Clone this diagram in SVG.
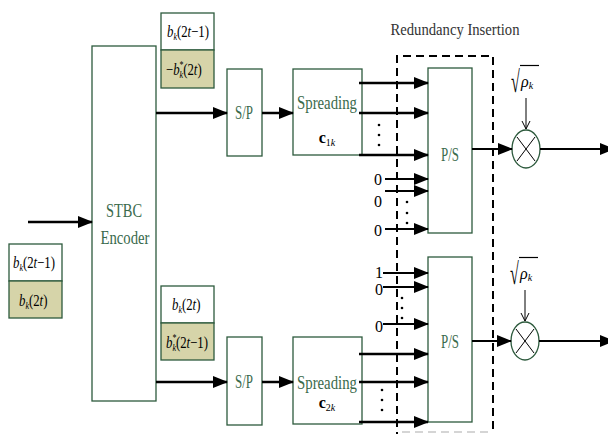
<svg xmlns="http://www.w3.org/2000/svg" width="608" height="434" viewBox="0 0 608 434">
<style>
.box{fill:#fff;stroke:#2d5a3d;stroke-width:1.3}
.tan{fill:#d6d4a9;stroke:#2d5a3d;stroke-width:1.3}
.lbl{font-family:"Liberation Serif","Times New Roman",serif;fill:#3a6a4c}
.m{font-family:"Liberation Serif","Times New Roman",serif;fill:#000;font-size:16px}
.i{font-style:italic}
.w{stroke:#000;stroke-width:2.5;fill:none}
.z{stroke:#000;stroke-width:2;fill:none}
.dot{fill:#000}
</style>
<defs>
<marker id="ah" markerUnits="userSpaceOnUse" markerWidth="15" markerHeight="12" viewBox="0 0 15 12" refX="14" refY="6" orient="auto">
<path d="M0,0 L15,6 L0,12 z" fill="#000"/>
</marker>
<marker id="thin" markerUnits="userSpaceOnUse" markerWidth="10" markerHeight="10" viewBox="0 0 10 10" refX="9" refY="5" orient="auto">
<path d="M1,1 L9,5 L1,9" fill="none" stroke="#000" stroke-width="1"/>
</marker>
</defs>

<g id="redundancy">
<path d="M397,440 L397,56 L493,56 L493,440" fill="none" stroke="#000" stroke-width="2" stroke-dasharray="8,5"/>
<line x1="402" y1="432" x2="490" y2="432" stroke="#c8c8c8" stroke-width="1.5" stroke-dasharray="8,5"/>
<text x="455" y="35" font-family="Liberation Serif, serif" font-size="16" fill="#333" text-anchor="middle" textLength="129" lengthAdjust="spacingAndGlyphs">Redundancy Insertion</text>
</g>

<g id="input-labels">
<rect class="box" x="9" y="244" width="53" height="37"/>
<rect class="tan" x="9" y="281" width="53" height="37"/>
<text class="m" transform="translate(13,268) scale(0.8,1)"><tspan class="i">b</tspan><tspan font-size="10" dy="3" class="i">k</tspan><tspan dy="-3">(2</tspan><tspan class="i">t</tspan><tspan>−1)</tspan></text>
<text class="m" transform="translate(19,306) scale(0.8,1)"><tspan class="i">b</tspan><tspan font-size="10" dy="3" class="i">k</tspan><tspan dy="-3">(2</tspan><tspan class="i">t</tspan><tspan>)</tspan></text>
</g>

<g id="stbc-encoder">
<rect class="box" x="92" y="46" width="64" height="355"/>
<text class="lbl" x="124" y="217" font-size="19" text-anchor="middle" textLength="36" lengthAdjust="spacingAndGlyphs">STBC</text>
<text class="lbl" x="125" y="244" font-size="19" text-anchor="middle" textLength="49" lengthAdjust="spacingAndGlyphs">Encoder</text>
</g>

<g id="top-labels">
<rect class="box" x="161" y="13" width="53" height="37"/>
<rect class="tan" x="161" y="50" width="53" height="38"/>
<text class="m" transform="translate(167,37) scale(0.8,1)"><tspan class="i">b</tspan><tspan font-size="10" dy="3" class="i">k</tspan><tspan dy="-3">(2</tspan><tspan class="i">t</tspan><tspan>−1)</tspan></text>
<text class="m" transform="translate(166,75) scale(0.8,1)"><tspan>−</tspan><tspan class="i">b</tspan><tspan font-size="10" dy="-7">*</tspan><tspan font-size="10" dx="-5" dy="10" class="i">k</tspan><tspan dy="-3">(2</tspan><tspan class="i">t</tspan><tspan>)</tspan></text>
</g>

<g id="bottom-labels">
<rect class="box" x="161" y="286" width="53" height="37"/>
<rect class="tan" x="161" y="323" width="53" height="37"/>
<text class="m" transform="translate(172,310) scale(0.8,1)"><tspan class="i">b</tspan><tspan font-size="10" dy="3" class="i">k</tspan><tspan dy="-3">(2</tspan><tspan class="i">t</tspan><tspan>)</tspan></text>
<text class="m" transform="translate(166,348) scale(0.8,1)"><tspan class="i">b</tspan><tspan font-size="10" dy="-7">*</tspan><tspan font-size="10" dx="-5" dy="10" class="i">k</tspan><tspan dy="-3">(2</tspan><tspan class="i">t</tspan><tspan>−1)</tspan></text>
</g>

<g id="sp-top">
<rect class="box" x="227" y="69" width="35" height="87"/>
<text class="lbl" x="244" y="119" font-size="19" text-anchor="middle" textLength="18" lengthAdjust="spacingAndGlyphs">S/P</text>
</g>
<g id="sp-bottom">
<rect class="box" x="227" y="337" width="35" height="88"/>
<text class="lbl" x="244" y="388" font-size="19" text-anchor="middle" textLength="18" lengthAdjust="spacingAndGlyphs">S/P</text>
</g>

<g id="spreading-top">
<rect class="box" x="293" y="69" width="69" height="86"/>
<text class="lbl" x="327" y="109" font-size="19" text-anchor="middle" textLength="60" lengthAdjust="spacingAndGlyphs">Spreading</text>
<text class="m" x="327" y="143" text-anchor="middle" font-size="15"><tspan font-weight="bold" font-size="16">c</tspan><tspan font-size="10" dy="3">1</tspan><tspan font-size="10" class="i">k</tspan></text>
</g>
<g id="spreading-bottom">
<rect class="box" x="293" y="337" width="69" height="87"/>
<text class="lbl" x="327" y="389" font-size="19" text-anchor="middle" textLength="60" lengthAdjust="spacingAndGlyphs">Spreading</text>
<text class="m" x="327" y="408" text-anchor="middle" font-size="15"><tspan font-weight="bold" font-size="16">c</tspan><tspan font-size="10" dy="3">2</tspan><tspan font-size="10" class="i">k</tspan></text>
</g>

<g id="ps-top">
<rect class="box" x="428" y="68" width="44" height="165"/>
<text class="lbl" x="450" y="161" font-size="19" text-anchor="middle" textLength="18" lengthAdjust="spacingAndGlyphs">P/S</text>
</g>
<g id="ps-bottom">
<rect class="box" x="428" y="257" width="44" height="165"/>
<text class="lbl" x="450" y="348" font-size="19" text-anchor="middle" textLength="18" lengthAdjust="spacingAndGlyphs">P/S</text>
</g>

<g id="mult-top">
<ellipse cx="526" cy="149" rx="14" ry="19" fill="#fff" stroke="#2d5a3d" stroke-width="1.3"/>
<line x1="517" y1="137" x2="535" y2="161" stroke="#000" stroke-width="1"/>
<line x1="535" y1="137" x2="517" y2="161" stroke="#000" stroke-width="1"/>
<text class="m" transform="translate(511,92) scale(1,1.9)" font-size="22">√</text>
<line x1="520" y1="65.5" x2="539" y2="65.5" stroke="#000" stroke-width="1.2"/>
<text class="m" x="521" y="87" font-size="19"><tspan class="i">ρ</tspan><tspan class="i" font-size="10" dy="2">k</tspan></text>
</g>
<g id="mult-bottom">
<ellipse cx="525" cy="341" rx="14" ry="19" fill="#fff" stroke="#2d5a3d" stroke-width="1.3"/>
<line x1="516" y1="329" x2="534" y2="353" stroke="#000" stroke-width="1"/>
<line x1="534" y1="329" x2="516" y2="353" stroke="#000" stroke-width="1"/>
<text class="m" transform="translate(510,284) scale(1,1.9)" font-size="22">√</text>
<line x1="519" y1="257.5" x2="538" y2="257.5" stroke="#000" stroke-width="1.2"/>
<text class="m" x="520" y="279" font-size="19"><tspan class="i">ρ</tspan><tspan class="i" font-size="10" dy="2">k</tspan></text>
</g>

<g id="zero-labels" font-family="Liberation Serif, serif" font-size="16" fill="#000" text-anchor="middle">
<text x="378" y="185">0</text>
<text x="378" y="207">0</text>
<text x="378" y="236">0</text>
<text x="379" y="278">1</text>
<text x="379" y="295">0</text>
<text x="379" y="332">0</text>
</g>

<g id="connectors">
<line class="w" x1="28" y1="222" x2="92" y2="222" marker-end="url(#ah)"/>
<line class="w" x1="156" y1="113" x2="227" y2="113" marker-end="url(#ah)"/>
<line class="w" x1="262" y1="113" x2="293" y2="113" marker-end="url(#ah)"/>
<line class="w" x1="156" y1="382" x2="227" y2="382" marker-end="url(#ah)"/>
<line class="w" x1="262" y1="382" x2="293" y2="382" marker-end="url(#ah)"/>
<line class="w" x1="359" y1="83" x2="428" y2="83" marker-end="url(#ah)"/>
<line class="w" x1="359" y1="113" x2="428" y2="113" marker-end="url(#ah)"/>
<line class="w" x1="359" y1="155" x2="428" y2="155" marker-end="url(#ah)"/>
<line class="z" x1="385" y1="179" x2="428" y2="179" marker-end="url(#ah)"/>
<line class="z" x1="385" y1="191" x2="428" y2="191" marker-end="url(#ah)"/>
<line class="z" x1="385" y1="229" x2="428" y2="229" marker-end="url(#ah)"/>
<line class="z" x1="383" y1="273" x2="428" y2="273" marker-end="url(#ah)"/>
<line class="z" x1="383" y1="287" x2="428" y2="287" marker-end="url(#ah)"/>
<line class="z" x1="383" y1="324" x2="428" y2="324" marker-end="url(#ah)"/>
<line class="w" x1="359" y1="354" x2="428" y2="354" marker-end="url(#ah)"/>
<line class="w" x1="359" y1="382" x2="428" y2="382" marker-end="url(#ah)"/>
<line class="w" x1="359" y1="422" x2="428" y2="422" marker-end="url(#ah)"/>
<line class="z" x1="472" y1="149" x2="512" y2="149" marker-end="url(#ah)"/>
<line class="z" x1="472" y1="341" x2="511" y2="341" marker-end="url(#ah)"/>
<line class="z" x1="540" y1="149" x2="614" y2="149" marker-end="url(#ah)"/>
<line class="z" x1="539" y1="341" x2="614" y2="341" marker-end="url(#ah)"/>
<line x1="526" y1="98" x2="526" y2="129" stroke="#000" stroke-width="1" marker-end="url(#thin)"/>
<line x1="525" y1="290" x2="525" y2="321" stroke="#000" stroke-width="1" marker-end="url(#thin)"/>
<circle class="dot" cx="379" cy="125" r="1.3"/>
<circle class="dot" cx="379" cy="135" r="1.3"/>
<circle class="dot" cx="379" cy="145" r="1.3"/>
<circle class="dot" cx="407" cy="202" r="1.3"/>
<circle class="dot" cx="407" cy="213" r="1.3"/>
<circle class="dot" cx="407" cy="223" r="1.3"/>
<circle class="dot" cx="402" cy="298" r="1.3"/>
<circle class="dot" cx="402" cy="308" r="1.3"/>
<circle class="dot" cx="402" cy="318" r="1.3"/>
<circle class="dot" cx="382" cy="390" r="1.3"/>
<circle class="dot" cx="382" cy="400" r="1.3"/>
<circle class="dot" cx="382" cy="410" r="1.3"/>
</g>
</svg>
